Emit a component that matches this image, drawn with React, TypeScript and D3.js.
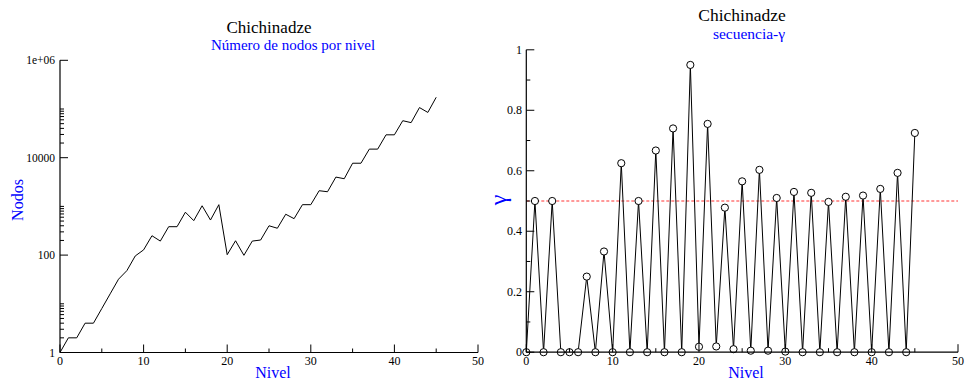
import React from "react";
import * as d3 from "d3";

const levels = d3.range(0, 46);
const nodos = [1, 2, 2, 4, 4, 8, 16, 32, 48, 96, 128, 250, 194, 383, 383, 760, 510, 1030, 525, 1085,
  102, 197, 99, 194, 204, 400, 356, 690, 560, 1085, 1085, 2100, 2000, 4000, 3700, 7700, 7700, 15000, 15000, 29500,
  29500, 57500, 52500, 107000, 85000, 174000];
const gamma = [0, 0.5, 0, 0.5, 0, 0, 0, 0.25, 0, 0.333, 0, 0.625, 0, 0.5, 0, 0.667, 0, 0.74, 0, 0.95,
  0.018, 0.755, 0.019, 0.478, 0.01, 0.565, 0.005, 0.603, 0.005, 0.51, 0.002, 0.53, 0, 0.527, 0, 0.497, 0, 0.514, 0, 0.518,
  0, 0.54, 0, 0.593, 0, 0.725];
const xTicks = [0, 10, 20, 30, 40, 50];
const xMinor = [5, 15, 25, 35, 45];
const logTicks = [1, 100, 10000, 1000000];
const logTickLabels = ["1", "100", "10000", "1e+06"];
const gTicks = [0, 0.2, 0.4, 0.6, 0.8, 1];
const gMinor = [0.1, 0.3, 0.5, 0.7, 0.9];
const refLine = 0.5;

const FONT = "Liberation Serif, Times New Roman, Times, DejaVu Serif, serif";

export default function App() {
  // left chart
  const xL = d3.scaleLinear().domain([0, 50]).range([60, 478]);
  const yL = d3.scaleLog().domain([1, 1e6]).range([352.5, 60.3]);
  const lineL = d3.line<number>().x((_, i) => xL(levels[i])).y((d) => yL(d));
  const logMinor: number[] = [];
  [1, 100, 10000].forEach((m) => { for (let k = 2; k <= 10; k++) logMinor.push(m * k); });

  // right chart
  const xR = d3.scaleLinear().domain([0, 50]).range([526.3, 958]);
  const yR = d3.scaleLinear().domain([0, 1]).range([352.2, 49.8]);
  const lineR = d3.line<number>().x((_, i) => xR(levels[i])).y((d) => yR(d));

  const ax = { stroke: "#000", strokeWidth: 1.2, fill: "none" };
  const tk = { stroke: "#000", strokeWidth: 1 };

  return (
    <svg width={968} height={383} style={{ position: "absolute", left: 0, top: 0, background: "#fff", fontFamily: FONT }}>
      {/* LEFT */}
      <text x={269} y={33} textAnchor="middle" fontSize={17} fill="#000">Chichinadze</text>
      <text x={293} y={49.5} textAnchor="middle" fontSize={15} fill="#0000ff">Número de nodos por nivel</text>
      <path d={lineL(nodos) || ""} stroke="#000" strokeWidth={1} fill="none" />
      <line x1={xL(0)} x2={xL(0)} y1={yL(1)} y2={yL(1e6)} {...ax} />
      <line x1={xL(0)} x2={xL(50)} y1={yL(1)} y2={yL(1)} {...ax} />
      {logTicks.map((t, i) => (
        <g key={"lt" + t}>
          <line x1={xL(0)} x2={xL(0) + 8} y1={yL(t)} y2={yL(t)} {...tk} />
          <text x={55} y={yL(t) + 4} textAnchor="end" fontSize={11.5} fill="#000">{logTickLabels[i]}</text>
        </g>
      ))}
      {logMinor.map((t) => (
        <line key={"lm" + t} x1={xL(0)} x2={xL(0) + 4} y1={yL(t)} y2={yL(t)} {...tk} />
      ))}
      {xTicks.map((t) => (
        <g key={"lx" + t}>
          <line x1={xL(t)} x2={xL(t)} y1={yL(1)} y2={yL(1) - 8} {...tk} />
          <text x={xL(t)} y={365} textAnchor="middle" fontSize={12} fill="#000">{t}</text>
        </g>
      ))}
      {xMinor.map((t) => (
        <line key={"lxm" + t} x1={xL(t)} x2={xL(t)} y1={yL(1)} y2={yL(1) - 4} {...tk} />
      ))}
      <text x={273} y={378} textAnchor="middle" fontSize={16} fill="#0000ff">Nivel</text>
      <text transform="translate(23,200) rotate(-90)" textAnchor="middle" fontSize={16} fill="#0000ff">Nodos</text>

      {/* RIGHT */}
      <text x={742} y={21} textAnchor="middle" fontSize={17.5} fill="#000">Chichinadze</text>
      <text x={749} y={38.5} textAnchor="middle" fontSize={15.5} fill="#0000ff">secuencia-γ</text>
      <line x1={xR(0)} x2={xR(50)} y1={yR(refLine)} y2={yR(refLine)} stroke="#ff3333" strokeWidth={1} strokeDasharray="3,2" />
      <path d={lineR(gamma) || ""} stroke="#000" strokeWidth={1} fill="none" />
      {gamma.map((g, i) => (
        <circle key={"c" + i} cx={xR(levels[i])} cy={yR(g)} r={3.6} stroke="#000" strokeWidth={1} fill="#fff" />
      ))}
      <line x1={xR(0)} x2={xR(0)} y1={yR(0)} y2={yR(1)} {...ax} />
      <line x1={xR(0)} x2={xR(50)} y1={yR(0)} y2={yR(0)} {...ax} />
      {gTicks.map((t) => (
        <g key={"gt" + t}>
          <line x1={xR(0)} x2={xR(0) + 8} y1={yR(t)} y2={yR(t)} {...tk} />
          <text x={522} y={yR(t) + 4} textAnchor="end" fontSize={12} fill="#000">{String(t)}</text>
        </g>
      ))}
      {gMinor.map((t) => (
        <line key={"gm" + t} x1={xR(0)} x2={xR(0) + 4} y1={yR(t)} y2={yR(t)} {...tk} />
      ))}
      {xTicks.map((t) => (
        <g key={"rx" + t}>
          <line x1={xR(t)} x2={xR(t)} y1={yR(0)} y2={yR(0) - 8} {...tk} />
          <text x={xR(t)} y={365} textAnchor="middle" fontSize={12} fill="#000">{t}</text>
        </g>
      ))}
      {xMinor.map((t) => (
        <line key={"rxm" + t} x1={xR(t)} x2={xR(t)} y1={yR(0)} y2={yR(0) - 4} {...tk} />
      ))}
      <text x={746} y={378} textAnchor="middle" fontSize={16} fill="#0000ff">Nivel</text>
      <text transform="translate(506,200) rotate(-90)" textAnchor="middle" fontSize={24} fill="#0000ff">γ</text>
    </svg>
  );
}
